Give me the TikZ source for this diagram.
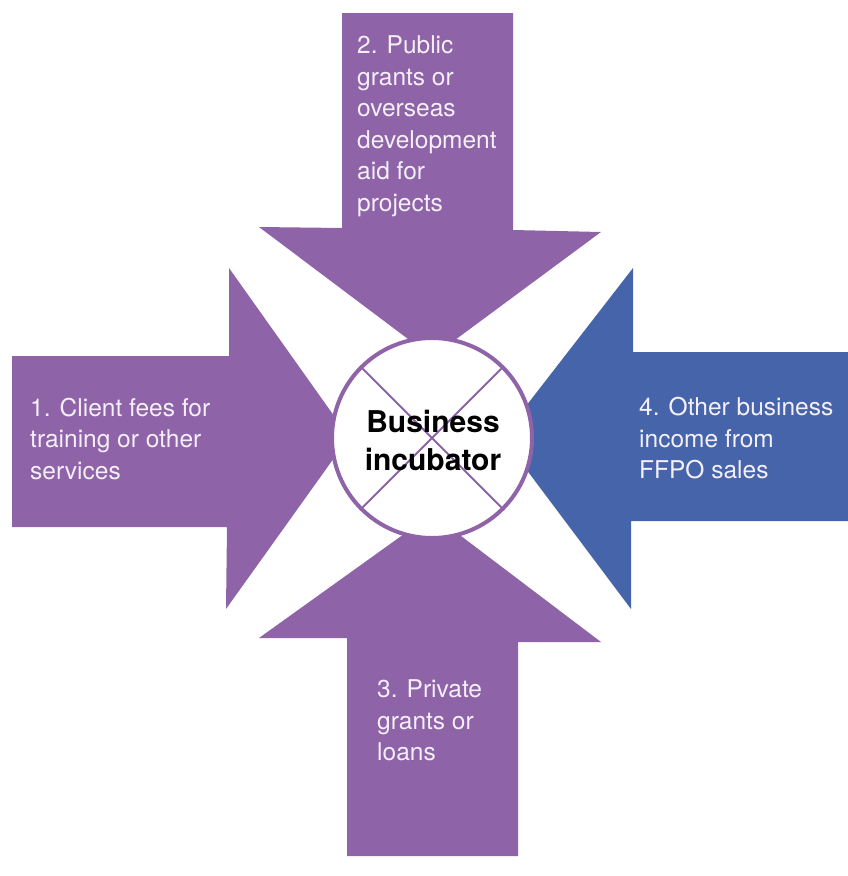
\documentclass[tikz,border=0pt]{standalone}
\usepackage{fontspec}
\setmainfont{TeX Gyre Heros}
\definecolor{arrpurple}{HTML}{8F63A8}
\definecolor{arrblue}{HTML}{4664AA}
\definecolor{labeltext}{HTML}{F4EFF8}
\tikzset{
  arrowshape/.style={fill=arrpurple, draw=none},
  bluearrow/.style={fill=arrblue, draw=none},
  labeltxt/.style={text=labeltext, align=left, anchor=north west, inner sep=0pt,
    font={\fontsize{24.5}{31.5}\selectfont}},
  hubstyle/.style={circle, draw=arrpurple, line width=4pt, fill=white,
    minimum size=200pt, inner sep=0pt},
  crossline/.style={draw=arrpurple, line width=1.8pt},
  hubtext/.style={align=center, inner sep=0pt, text=black,
    font={\fontsize{30}{38}\selectfont\bfseries}}
}
\begin{document}
\begin{tikzpicture}[x=1pt,y=-1pt]
\useasboundingbox (0,0) rectangle (848,876);
% arrows
\fill[arrowshape] (342,13) -- (513,13) -- (513,230) -- (601,232) -- (432,357) -- (259,227) -- (342,228) -- cycle;
\fill[arrowshape] (12,356) -- (229,356) -- (229,268) -- (349,437) -- (226,609) -- (227,527) -- (12,527) -- cycle;
\fill[bluearrow] (848,352) -- (633,352) -- (633,268) -- (502,437) -- (631,609) -- (631,521) -- (848,521) -- cycle;
\fill[arrowshape] (347,856) -- (518,856) -- (518,642) -- (601,642) -- (432,514) -- (259,638) -- (347,638) -- cycle;
% hub
\node[hubstyle] (hub) at (432,438) {};
\draw[crossline] (hub.45) -- (hub.225);
\draw[crossline] (hub.135) -- (hub.315);
\node[hubtext] (hubtxt) at (433,440) {Business\\incubator};
% labels
\node[labeltxt] (l1) at (30,397.5) {1. Client fees for\\training or other\\services};
\node[labeltxt] (l2) at (357,35.5) {2. Public\\grants or\\overseas\\development\\aid for\\projects};
\node[labeltxt] (l3) at (377,679.5) {3. Private\\grants or\\loans};
\node[labeltxt] (l4) at (639,397) {4. Other business\\income from\\FFPO sales};
\end{tikzpicture}
\end{document}
